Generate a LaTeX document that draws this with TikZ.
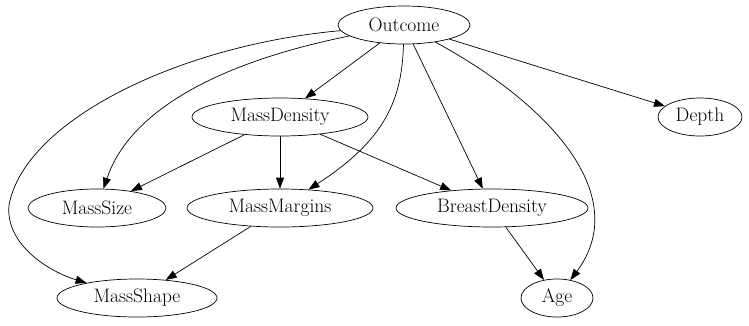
\documentclass[tikz,border=0pt]{standalone}
\usetikzlibrary{shapes.geometric,arrows.meta}
\begin{document}
\begin{tikzpicture}[x=1pt,y=-1pt,
  nd/.style={draw,ellipse,inner sep=0pt,minimum height=38pt,line width=0.7pt,font=\fontsize{19.5}{22}\selectfont},
  edge/.style={-{Triangle[length=11pt,width=8pt]},line width=0.7pt}]
\useasboundingbox (0,0) rectangle (749,325);
\node[nd,minimum width=132pt] (Outcome) at (404,25) {Outcome};
\node[nd,minimum width=176pt] (MassDensity) at (280,117) {MassDensity};
\node[nd,minimum width=84pt] (Depth) at (700,117) {Depth};
\node[nd,minimum width=138pt] (MassSize) at (97,208) {MassSize};
\node[nd,minimum width=186pt] (MassMargins) at (280,208) {MassMargins};
\node[nd,minimum width=192pt] (BreastDensity) at (492,208) {BreastDensity};
\node[nd,minimum width=160pt] (MassShape) at (137,298) {MassShape};
\node[nd,minimum width=72pt] (Age) at (557,298) {Age};
\coordinate (bend) at (9,205);
\draw[edge] (Outcome) -- (MassDensity);
\draw[edge] (Outcome) -- (Depth);
\draw[edge] (Outcome) .. controls (220,62) and (130,110) .. (MassSize);
\draw[line width=0.7pt] (Outcome) .. controls (180,45) and (25,120) .. (bend);
\draw[edge] (bend) .. controls (5,245) and (50,272) .. (MassShape);
\draw[edge] (Outcome) .. controls (402,100) and (385,140) .. (MassMargins);
\draw[edge] (Outcome) -- (BreastDensity);
\draw[edge] (Outcome) .. controls (560,110) and (630,200) .. (Age);
\draw[edge] (MassDensity) -- (MassSize);
\draw[edge] (MassDensity) -- (MassMargins);
\draw[edge] (MassDensity) -- (BreastDensity);
\draw[edge] (MassMargins) -- (MassShape);
\draw[edge] (BreastDensity) -- (Age);
\end{tikzpicture}
\end{document}
